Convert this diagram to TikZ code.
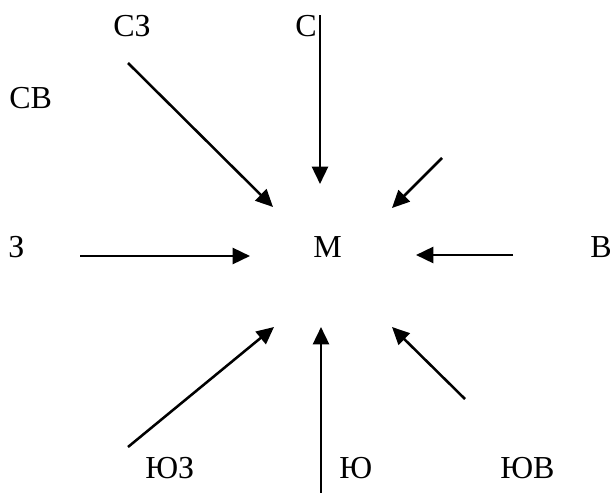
\documentclass[tikz,border=0pt]{standalone}
\usepackage{fontspec}
\setmainfont{Liberation Serif}
\usetikzlibrary{arrows.meta}
\tikzset{
  lbl/.style={anchor=base west, inner sep=0pt, font=\fontsize{24}{28}\selectfont},
  wind/.style={line width=1.9pt, -{Triangle[length=13pt,width=12pt]}}
}
\begin{document}
\begin{tikzpicture}[x=0.75pt,y=-0.75pt]
\useasboundingbox (0,0) rectangle (611,493);
% labels
\node[lbl] (nw) at (113,36) {СЗ};
\node[lbl] (n)  at (295,36) {С};
\node[lbl] (ne) at (9,108) {СВ};
\node[lbl] (w)  at (8,257) {З};
\node[lbl] (m)  at (313,257) {М};
\node[lbl] (e)  at (590,257) {В};
\node[lbl] (sw) at (145,478) {ЮЗ};
\node[lbl] (s)  at (339,478) {Ю};
\node[lbl] (se) at (500,478) {ЮВ};
% arrow ends
\coordinate (nA) at (320,15);   \coordinate (nB) at (320,184);
\coordinate (nwA) at (128,63);  \coordinate (nwB) at (273,207);
\coordinate (neA) at (442,158); \coordinate (neB) at (392,208);
\coordinate (wA) at (80,256);   \coordinate (wB) at (250,256);
\coordinate (eA) at (513,255);  \coordinate (eB) at (416,255);
\coordinate (swA) at (128,447); \coordinate (swB) at (274,327);
\coordinate (sA) at (321,493);  \coordinate (sB) at (321,327);
\coordinate (seA) at (465,399); \coordinate (seB) at (392,327);
\draw[wind] (nA) -- (nB);
\draw[wind] (nwA) -- (nwB);
\draw[wind] (neA) -- (neB);
\draw[wind] (wA) -- (wB);
\draw[wind] (eA) -- (eB);
\draw[wind] (swA) -- (swB);
\draw[wind] (sA) -- (sB);
\draw[wind] (seA) -- (seB);
\end{tikzpicture}
\end{document}
